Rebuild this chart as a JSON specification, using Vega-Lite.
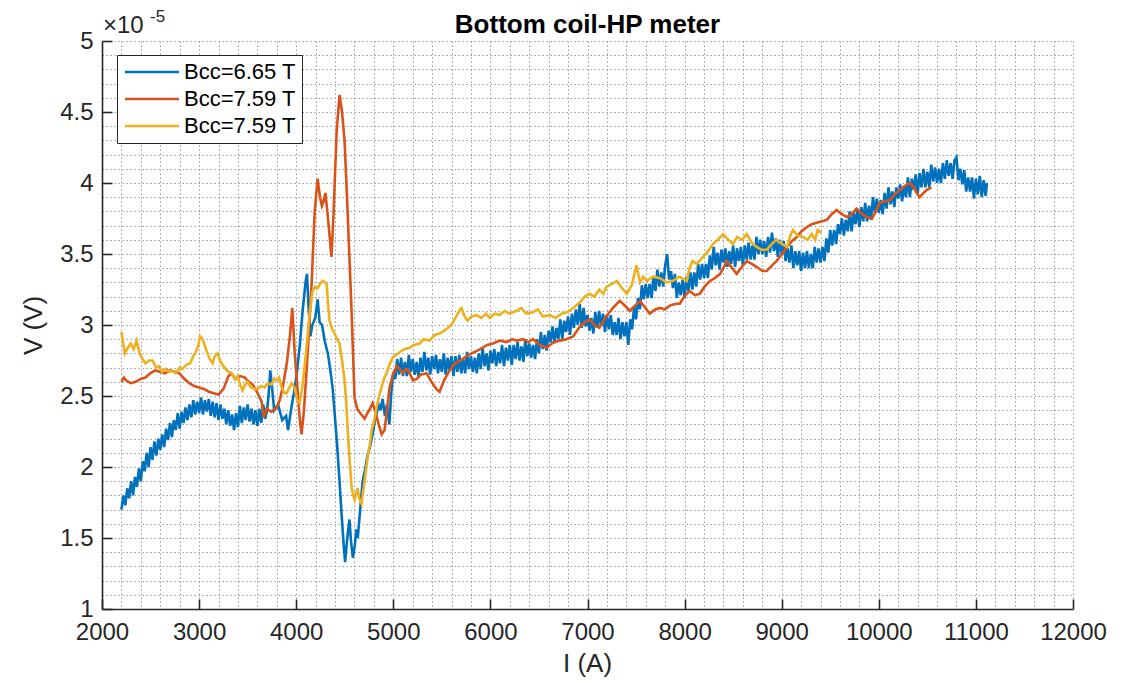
{
  "$schema": "https://vega.github.io/schema/vega-lite/v6.json",
  "width": 971,
  "height": 568,
  "autosize": {"type": "none"},
  "padding": {"left": 102, "top": 41, "right": 64, "bottom": 74},
  "background": "#ffffff",
  "title": {
    "text": "Bottom coil-HP meter",
    "font": "Liberation Sans",
    "fontSize": 26,
    "fontWeight": "bold",
    "color": "#000000",
    "anchor": "middle",
    "frame": "group",
    "baseline": "alphabetic",
    "offset": 8,
    "dy": 59
  },
  "config": {
    "view": {"stroke": null},
    "font": "Liberation Sans",
    "axis": {
      "domainColor": "#262626",
      "domainWidth": 1.6,
      "tickColor": "#262626",
      "tickWidth": 1.6,
      "tickSize": -10,
      "tickCount": 100,
      "labelColor": "#262626",
      "labelFont": "Liberation Sans",
      "labelFontSize": 24,
      "titleColor": "#262626",
      "titleFont": "Liberation Sans",
      "titleFontSize": 26,
      "titleFontWeight": "normal",
      "gridColor": "#9c9c9c",
      "gridDash": [1.5, 2.5],
      "gridWidth": 1,
      "labelOverlap": false,
      "labelBound": false,
      "labelFlush": false
    },
    "legend": {
      "orient": "none",
      "legendX": 15,
      "legendY": 14,
      "padding": 6,
      "strokeColor": "#262626",
      "fillColor": "#ffffff",
      "symbolType": "M-3,0H3",
      "symbolSize": 324,
      "symbolStrokeWidth": 2.6,
      "symbolOffset": 18,
      "labelFont": "Liberation Sans",
      "labelFontSize": 22,
      "labelColor": "#000000",
      "labelOffset": 21,
      "labelLimit": 200,
      "rowPadding": 5
    }
  },
  "datasets": {
    "curves": [
      {"s":"a","I":2200,"V":1.70},{"s":"a","I":2220,"V":1.80},{"s":"a","I":2240,"V":1.73},{"s":"a","I":2260,"V":1.85},{"s":"a","I":2280,"V":1.78},{"s":"a","I":2300,"V":1.90},{"s":"a","I":2320,"V":1.80},{"s":"a","I":2340,"V":1.93},{"s":"a","I":2360,"V":1.86},{"s":"a","I":2380,"V":1.99},{"s":"a","I":2400,"V":1.90},{"s":"a","I":2420,"V":2.04},{"s":"a","I":2440,"V":1.97},{"s":"a","I":2460,"V":2.10},{"s":"a","I":2480,"V":2.00},{"s":"a","I":2500,"V":2.14},{"s":"a","I":2520,"V":2.05},{"s":"a","I":2540,"V":2.18},{"s":"a","I":2560,"V":2.08},{"s":"a","I":2580,"V":2.20},{"s":"a","I":2600,"V":2.12},{"s":"a","I":2620,"V":2.23},{"s":"a","I":2640,"V":2.14},{"s":"a","I":2660,"V":2.27},{"s":"a","I":2680,"V":2.19},{"s":"a","I":2700,"V":2.31},{"s":"a","I":2720,"V":2.21},{"s":"a","I":2740,"V":2.33},{"s":"a","I":2760,"V":2.26},{"s":"a","I":2780,"V":2.38},{"s":"a","I":2800,"V":2.27},{"s":"a","I":2820,"V":2.39},{"s":"a","I":2840,"V":2.31},{"s":"a","I":2860,"V":2.42},{"s":"a","I":2880,"V":2.33},{"s":"a","I":2900,"V":2.44},{"s":"a","I":2920,"V":2.35},{"s":"a","I":2940,"V":2.47},{"s":"a","I":2960,"V":2.37},{"s":"a","I":2980,"V":2.46},{"s":"a","I":3000,"V":2.38},{"s":"a","I":3020,"V":2.49},{"s":"a","I":3040,"V":2.37},{"s":"a","I":3060,"V":2.47},{"s":"a","I":3080,"V":2.39},{"s":"a","I":3100,"V":2.48},{"s":"a","I":3120,"V":2.36},{"s":"a","I":3140,"V":2.46},{"s":"a","I":3160,"V":2.35},{"s":"a","I":3180,"V":2.45},{"s":"a","I":3200,"V":2.33},{"s":"a","I":3220,"V":2.44},{"s":"a","I":3240,"V":2.34},{"s":"a","I":3260,"V":2.41},{"s":"a","I":3280,"V":2.30},{"s":"a","I":3300,"V":2.40},{"s":"a","I":3320,"V":2.29},{"s":"a","I":3340,"V":2.37},{"s":"a","I":3360,"V":2.26},{"s":"a","I":3380,"V":2.38},{"s":"a","I":3400,"V":2.28},{"s":"a","I":3420,"V":2.43},{"s":"a","I":3440,"V":2.31},{"s":"a","I":3460,"V":2.42},{"s":"a","I":3480,"V":2.33},{"s":"a","I":3500,"V":2.44},{"s":"a","I":3520,"V":2.32},{"s":"a","I":3540,"V":2.41},{"s":"a","I":3560,"V":2.30},{"s":"a","I":3580,"V":2.40},{"s":"a","I":3600,"V":2.29},{"s":"a","I":3620,"V":2.41},{"s":"a","I":3640,"V":2.31},{"s":"a","I":3660,"V":2.44},{"s":"a","I":3680,"V":2.34},{"s":"a","I":3700,"V":2.40},{"s":"a","I":3715,"V":2.50},{"s":"a","I":3733,"V":2.68},{"s":"a","I":3753,"V":2.55},{"s":"a","I":3773,"V":2.40},{"s":"a","I":3813,"V":2.44},{"s":"a","I":3856,"V":2.33},{"s":"a","I":3896,"V":2.36},{"s":"a","I":3916,"V":2.26},{"s":"a","I":3946,"V":2.40},{"s":"a","I":3976,"V":2.52},{"s":"a","I":4006,"V":2.66},{"s":"a","I":4036,"V":2.85},{"s":"a","I":4066,"V":3.10},{"s":"a","I":4096,"V":3.30},{"s":"a","I":4111,"V":3.36},{"s":"a","I":4126,"V":3.15},{"s":"a","I":4146,"V":2.92},{"s":"a","I":4166,"V":3.00},{"s":"a","I":4196,"V":3.05},{"s":"a","I":4221,"V":3.18},{"s":"a","I":4241,"V":3.02},{"s":"a","I":4266,"V":3.00},{"s":"a","I":4296,"V":2.88},{"s":"a","I":4326,"V":2.80},{"s":"a","I":4356,"V":2.66},{"s":"a","I":4376,"V":2.55},{"s":"a","I":4396,"V":2.38},{"s":"a","I":4421,"V":2.16},{"s":"a","I":4446,"V":1.90},{"s":"a","I":4469,"V":1.65},{"s":"a","I":4489,"V":1.45},{"s":"a","I":4504,"V":1.33},{"s":"a","I":4519,"V":1.45},{"s":"a","I":4534,"V":1.55},{"s":"a","I":4549,"V":1.63},{"s":"a","I":4564,"V":1.48},{"s":"a","I":4584,"V":1.36},{"s":"a","I":4604,"V":1.45},{"s":"a","I":4619,"V":1.56},{"s":"a","I":4634,"V":1.50},{"s":"a","I":4659,"V":1.70},{"s":"a","I":4684,"V":1.90},{"s":"a","I":4709,"V":1.98},{"s":"a","I":4734,"V":2.08},{"s":"a","I":4759,"V":2.14},{"s":"a","I":4789,"V":2.24},{"s":"a","I":4809,"V":2.32},{"s":"a","I":4829,"V":2.38},{"s":"a","I":4849,"V":2.44},{"s":"a","I":4869,"V":2.40},{"s":"a","I":4889,"V":2.48},{"s":"a","I":4914,"V":2.36},{"s":"a","I":4934,"V":2.44},{"s":"a","I":4959,"V":2.30},{"s":"a","I":4979,"V":2.52},{"s":"a","I":4999,"V":2.66},
      {"s":"a","I":5020,"V":2.62},{"s":"a","I":5040,"V":2.76},{"s":"a","I":5060,"V":2.65},{"s":"a","I":5080,"V":2.77},{"s":"a","I":5100,"V":2.64},{"s":"a","I":5120,"V":2.74},{"s":"a","I":5140,"V":2.64},{"s":"a","I":5160,"V":2.79},{"s":"a","I":5180,"V":2.67},{"s":"a","I":5200,"V":2.76},{"s":"a","I":5220,"V":2.65},{"s":"a","I":5240,"V":2.74},{"s":"a","I":5260,"V":2.63},{"s":"a","I":5280,"V":2.77},{"s":"a","I":5300,"V":2.67},{"s":"a","I":5320,"V":2.81},{"s":"a","I":5340,"V":2.68},{"s":"a","I":5360,"V":2.77},{"s":"a","I":5380,"V":2.65},{"s":"a","I":5400,"V":2.78},{"s":"a","I":5420,"V":2.69},{"s":"a","I":5440,"V":2.79},{"s":"a","I":5460,"V":2.66},{"s":"a","I":5480,"V":2.76},{"s":"a","I":5500,"V":2.67},{"s":"a","I":5520,"V":2.80},{"s":"a","I":5540,"V":2.65},{"s":"a","I":5560,"V":2.77},{"s":"a","I":5580,"V":2.68},{"s":"a","I":5600,"V":2.78},{"s":"a","I":5620,"V":2.64},{"s":"a","I":5640,"V":2.78},{"s":"a","I":5660,"V":2.67},{"s":"a","I":5680,"V":2.79},{"s":"a","I":5700,"V":2.66},{"s":"a","I":5720,"V":2.76},{"s":"a","I":5740,"V":2.66},{"s":"a","I":5760,"V":2.81},{"s":"a","I":5780,"V":2.69},{"s":"a","I":5800,"V":2.78},{"s":"a","I":5820,"V":2.67},{"s":"a","I":5840,"V":2.77},{"s":"a","I":5860,"V":2.66},{"s":"a","I":5880,"V":2.80},{"s":"a","I":5900,"V":2.69},{"s":"a","I":5920,"V":2.84},{"s":"a","I":5940,"V":2.71},{"s":"a","I":5960,"V":2.80},{"s":"a","I":5980,"V":2.68},{"s":"a","I":6000,"V":2.82},{"s":"a","I":6020,"V":2.73},{"s":"a","I":6040,"V":2.83},{"s":"a","I":6060,"V":2.71},{"s":"a","I":6080,"V":2.81},{"s":"a","I":6100,"V":2.73},{"s":"a","I":6120,"V":2.86},{"s":"a","I":6140,"V":2.71},{"s":"a","I":6160,"V":2.84},{"s":"a","I":6180,"V":2.75},{"s":"a","I":6200,"V":2.86},{"s":"a","I":6220,"V":2.72},{"s":"a","I":6240,"V":2.86},{"s":"a","I":6260,"V":2.76},{"s":"a","I":6280,"V":2.88},{"s":"a","I":6300,"V":2.75},{"s":"a","I":6320,"V":2.85},{"s":"a","I":6340,"V":2.74},{"s":"a","I":6360,"V":2.90},{"s":"a","I":6380,"V":2.78},{"s":"a","I":6400,"V":2.87},{"s":"a","I":6420,"V":2.77},{"s":"a","I":6440,"V":2.86},{"s":"a","I":6460,"V":2.76},{"s":"a","I":6480,"V":2.90},{"s":"a","I":6500,"V":2.80},{"s":"a","I":6520,"V":2.95},{"s":"a","I":6540,"V":2.83},{"s":"a","I":6560,"V":2.93},{"s":"a","I":6580,"V":2.82},{"s":"a","I":6600,"V":2.96},{"s":"a","I":6620,"V":2.88},{"s":"a","I":6640,"V":2.99},{"s":"a","I":6660,"V":2.87},{"s":"a","I":6680,"V":2.98},{"s":"a","I":6700,"V":2.90},{"s":"a","I":6720,"V":3.04},{"s":"a","I":6740,"V":2.90},{"s":"a","I":6760,"V":3.03},{"s":"a","I":6780,"V":2.95},{"s":"a","I":6800,"V":3.06},{"s":"a","I":6820,"V":2.93},{"s":"a","I":6840,"V":3.08},{"s":"a","I":6860,"V":2.98},{"s":"a","I":6880,"V":3.11},{"s":"a","I":6900,"V":3.00},{"s":"a","I":6920,"V":3.15},{"s":"a","I":6940,"V":2.98},{"s":"a","I":6960,"V":3.12},{"s":"a","I":6980,"V":2.99},{"s":"a","I":7000,"V":3.07},{"s":"a","I":7020,"V":2.96},{"s":"a","I":7040,"V":3.05},{"s":"a","I":7060,"V":2.94},{"s":"a","I":7080,"V":3.09},{"s":"a","I":7100,"V":2.98},{"s":"a","I":7120,"V":3.10},{"s":"a","I":7140,"V":2.99},{"s":"a","I":7160,"V":3.08},{"s":"a","I":7180,"V":2.95},{"s":"a","I":7200,"V":3.07},{"s":"a","I":7220,"V":2.97},{"s":"a","I":7240,"V":3.07},{"s":"a","I":7260,"V":2.93},{"s":"a","I":7280,"V":3.02},{"s":"a","I":7300,"V":2.93},{"s":"a","I":7320,"V":3.05},{"s":"a","I":7340,"V":2.90},{"s":"a","I":7360,"V":3.02},{"s":"a","I":7380,"V":2.92},{"s":"a","I":7400,"V":3.02},{"s":"a","I":7420,"V":2.86},{"s":"a","I":7440,"V":3.04},{"s":"a","I":7460,"V":2.97},{"s":"a","I":7480,"V":3.13},{"s":"a","I":7500,"V":3.04},{"s":"a","I":7520,"V":3.19},{"s":"a","I":7540,"V":3.11},{"s":"a","I":7560,"V":3.28},{"s":"a","I":7580,"V":3.18},{"s":"a","I":7600,"V":3.29},{"s":"a","I":7620,"V":3.19},{"s":"a","I":7640,"V":3.29},{"s":"a","I":7660,"V":3.19},{"s":"a","I":7680,"V":3.34},{"s":"a","I":7700,"V":3.24},{"s":"a","I":7720,"V":3.39},{"s":"a","I":7740,"V":3.27},{"s":"a","I":7760,"V":3.37},{"s":"a","I":7780,"V":3.27},{"s":"a","I":7800,"V":3.42},{"s":"a","I":7820,"V":3.50},{"s":"a","I":7840,"V":3.32},{"s":"a","I":7860,"V":3.38},{"s":"a","I":7880,"V":3.26},{"s":"a","I":7900,"V":3.36},{"s":"a","I":7920,"V":3.19},{"s":"a","I":7940,"V":3.30},{"s":"a","I":7960,"V":3.21},{"s":"a","I":7980,"V":3.32},{"s":"a","I":8000,"V":3.19},{"s":"a","I":8020,"V":3.34},{"s":"a","I":8040,"V":3.24},{"s":"a","I":8060,"V":3.37},{"s":"a","I":8080,"V":3.25},{"s":"a","I":8100,"V":3.37},{"s":"a","I":8120,"V":3.27},{"s":"a","I":8140,"V":3.43},{"s":"a","I":8160,"V":3.32},{"s":"a","I":8180,"V":3.43},{"s":"a","I":8200,"V":3.33},{"s":"a","I":8220,"V":3.43},{"s":"a","I":8240,"V":3.33},{"s":"a","I":8260,"V":3.49},{"s":"a","I":8280,"V":3.39},{"s":"a","I":8300,"V":3.55},{"s":"a","I":8320,"V":3.42},{"s":"a","I":8340,"V":3.51},{"s":"a","I":8360,"V":3.39},{"s":"a","I":8380,"V":3.53},{"s":"a","I":8400,"V":3.44},{"s":"a","I":8420,"V":3.54},{"s":"a","I":8440,"V":3.41},{"s":"a","I":8460,"V":3.52},{"s":"a","I":8480,"V":3.43},{"s":"a","I":8500,"V":3.56},{"s":"a","I":8520,"V":3.41},{"s":"a","I":8540,"V":3.54},{"s":"a","I":8560,"V":3.45},{"s":"a","I":8580,"V":3.55},{"s":"a","I":8600,"V":3.42},{"s":"a","I":8620,"V":3.56},{"s":"a","I":8640,"V":3.46},{"s":"a","I":8660,"V":3.58},{"s":"a","I":8680,"V":3.46},{"s":"a","I":8700,"V":3.56},{"s":"a","I":8720,"V":3.46},{"s":"a","I":8740,"V":3.62},{"s":"a","I":8760,"V":3.50},{"s":"a","I":8780,"V":3.60},{"s":"a","I":8800,"V":3.50},{"s":"a","I":8820,"V":3.59},{"s":"a","I":8840,"V":3.48},{"s":"a","I":8860,"V":3.62},{"s":"a","I":8880,"V":3.51},{"s":"a","I":8900,"V":3.65},{"s":"a","I":8920,"V":3.52},{"s":"a","I":8940,"V":3.61},{"s":"a","I":8960,"V":3.48},{"s":"a","I":8980,"V":3.60},{"s":"a","I":9000,"V":3.50},{"s":"a","I":9020,"V":3.59},{"s":"a","I":9040,"V":3.45},{"s":"a","I":9060,"V":3.54},{"s":"a","I":9080,"V":3.44},{"s":"a","I":9100,"V":3.56},{"s":"a","I":9120,"V":3.40},{"s":"a","I":9140,"V":3.52},{"s":"a","I":9160,"V":3.42},{"s":"a","I":9180,"V":3.52},{"s":"a","I":9200,"V":3.38},{"s":"a","I":9220,"V":3.51},{"s":"a","I":9240,"V":3.40},{"s":"a","I":9260,"V":3.52},{"s":"a","I":9280,"V":3.40},{"s":"a","I":9300,"V":3.50},{"s":"a","I":9320,"V":3.40},{"s":"a","I":9340,"V":3.55},{"s":"a","I":9360,"V":3.44},{"s":"a","I":9380,"V":3.54},{"s":"a","I":9400,"V":3.44},{"s":"a","I":9420,"V":3.55},{"s":"a","I":9440,"V":3.45},{"s":"a","I":9460,"V":3.61},{"s":"a","I":9480,"V":3.51},{"s":"a","I":9500,"V":3.67},{"s":"a","I":9520,"V":3.56},{"s":"a","I":9540,"V":3.67},{"s":"a","I":9560,"V":3.57},{"s":"a","I":9580,"V":3.71},{"s":"a","I":9600,"V":3.64},{"s":"a","I":9620,"V":3.75},{"s":"a","I":9640,"V":3.63},{"s":"a","I":9660,"V":3.74},{"s":"a","I":9680,"V":3.66},{"s":"a","I":9700,"V":3.80},{"s":"a","I":9720,"V":3.66},{"s":"a","I":9740,"V":3.79},{"s":"a","I":9760,"V":3.71},{"s":"a","I":9780,"V":3.82},{"s":"a","I":9800,"V":3.69},{"s":"a","I":9820,"V":3.83},{"s":"a","I":9840,"V":3.73},{"s":"a","I":9860,"V":3.86},{"s":"a","I":9880,"V":3.73},{"s":"a","I":9900,"V":3.84},{"s":"a","I":9920,"V":3.74},{"s":"a","I":9940,"V":3.90},{"s":"a","I":9960,"V":3.79},{"s":"a","I":9980,"V":3.89},{"s":"a","I":10000,"V":3.79},{"s":"a","I":10020,"V":3.88},{"s":"a","I":10040,"V":3.78},{"s":"a","I":10060,"V":3.93},{"s":"a","I":10080,"V":3.82},{"s":"a","I":10100,"V":3.97},{"s":"a","I":10120,"V":3.85},{"s":"a","I":10140,"V":3.94},{"s":"a","I":10160,"V":3.83},{"s":"a","I":10180,"V":3.97},{"s":"a","I":10200,"V":3.89},{"s":"a","I":10220,"V":3.99},{"s":"a","I":10240,"V":3.87},{"s":"a","I":10260,"V":3.98},{"s":"a","I":10280,"V":3.90},{"s":"a","I":10300,"V":4.04},{"s":"a","I":10320,"V":3.90},{"s":"a","I":10340,"V":4.03},{"s":"a","I":10360,"V":3.95},{"s":"a","I":10380,"V":4.06},{"s":"a","I":10400,"V":3.92},{"s":"a","I":10420,"V":4.07},{"s":"a","I":10440,"V":3.97},{"s":"a","I":10460,"V":4.10},{"s":"a","I":10480,"V":3.97},{"s":"a","I":10500,"V":4.08},{"s":"a","I":10520,"V":3.97},{"s":"a","I":10540,"V":4.13},{"s":"a","I":10560,"V":4.01},{"s":"a","I":10580,"V":4.11},{"s":"a","I":10600,"V":4.00},{"s":"a","I":10620,"V":4.10},{"s":"a","I":10640,"V":4.00},{"s":"a","I":10660,"V":4.14},{"s":"a","I":10680,"V":4.03},{"s":"a","I":10700,"V":4.16},{"s":"a","I":10720,"V":4.05},{"s":"a","I":10740,"V":4.14},{"s":"a","I":10760,"V":4.03},{"s":"a","I":10780,"V":4.16},{"s":"a","I":10800,"V":4.18},{"s":"a","I":10820,"V":4.02},{"s":"a","I":10840,"V":4.10},{"s":"a","I":10860,"V":3.99},{"s":"a","I":10880,"V":4.09},{"s":"a","I":10900,"V":3.94},{"s":"a","I":10920,"V":4.04},{"s":"a","I":10940,"V":3.94},{"s":"a","I":10960,"V":4.04},{"s":"a","I":10980,"V":3.89},{"s":"a","I":11000,"V":4.03},{"s":"a","I":11020,"V":3.92},{"s":"a","I":11040,"V":4.05},{"s":"a","I":11060,"V":3.90},{"s":"a","I":11080,"V":4.02},{"s":"a","I":11100,"V":3.91},{"s":"a","I":11114,"V":4.00},

      {"s":"b","I":2200,"V":2.60},{"s":"b","I":2225,"V":2.63},{"s":"b","I":2246,"V":2.61},{"s":"b","I":2296,"V":2.59},{"s":"b","I":2347,"V":2.60},{"s":"b","I":2397,"V":2.62},{"s":"b","I":2447,"V":2.63},{"s":"b","I":2497,"V":2.66},{"s":"b","I":2547,"V":2.68},{"s":"b","I":2597,"V":2.67},{"s":"b","I":2648,"V":2.66},{"s":"b","I":2698,"V":2.68},{"s":"b","I":2748,"V":2.67},{"s":"b","I":2798,"V":2.66},{"s":"b","I":2849,"V":2.62},{"s":"b","I":2899,"V":2.59},{"s":"b","I":2950,"V":2.57},{"s":"b","I":3000,"V":2.56},{"s":"b","I":3050,"V":2.55},{"s":"b","I":3100,"V":2.53},{"s":"b","I":3151,"V":2.52},{"s":"b","I":3201,"V":2.51},{"s":"b","I":3251,"V":2.55},{"s":"b","I":3302,"V":2.64},{"s":"b","I":3332,"V":2.66},{"s":"b","I":3372,"V":2.62},{"s":"b","I":3422,"V":2.64},{"s":"b","I":3472,"V":2.63},{"s":"b","I":3513,"V":2.60},{"s":"b","I":3553,"V":2.58},{"s":"b","I":3603,"V":2.52},{"s":"b","I":3644,"V":2.46},{"s":"b","I":3664,"V":2.35},{"s":"b","I":3694,"V":2.41},{"s":"b","I":3744,"V":2.39},{"s":"b","I":3804,"V":2.42},{"s":"b","I":3834,"V":2.48},{"s":"b","I":3864,"V":2.57},{"s":"b","I":3905,"V":2.74},{"s":"b","I":3935,"V":2.92},{"s":"b","I":3960,"V":3.12},{"s":"b","I":3985,"V":2.80},{"s":"b","I":4010,"V":2.58},{"s":"b","I":4035,"V":2.35},{"s":"b","I":4055,"V":2.23},{"s":"b","I":4080,"V":2.40},{"s":"b","I":4105,"V":2.66},{"s":"b","I":4135,"V":3.00},{"s":"b","I":4160,"V":3.31},{"s":"b","I":4190,"V":3.79},{"s":"b","I":4220,"V":4.03},{"s":"b","I":4245,"V":3.90},{"s":"b","I":4265,"V":3.84},{"s":"b","I":4285,"V":3.88},{"s":"b","I":4301,"V":3.93},{"s":"b","I":4322,"V":3.79},{"s":"b","I":4345,"V":3.62},{"s":"b","I":4363,"V":3.48},{"s":"b","I":4385,"V":3.79},{"s":"b","I":4402,"V":4.10},{"s":"b","I":4417,"V":4.37},{"s":"b","I":4447,"V":4.62},{"s":"b","I":4472,"V":4.50},{"s":"b","I":4498,"V":4.30},{"s":"b","I":4530,"V":3.79},{"s":"b","I":4571,"V":3.08},{"s":"b","I":4601,"V":2.49},{"s":"b","I":4628,"V":2.41},{"s":"b","I":4658,"V":2.38},{"s":"b","I":4705,"V":2.34},{"s":"b","I":4734,"V":2.38},{"s":"b","I":4759,"V":2.41},{"s":"b","I":4787,"V":2.45},{"s":"b","I":4819,"V":2.38},{"s":"b","I":4849,"V":2.30},{"s":"b","I":4880,"V":2.23},{"s":"b","I":4910,"V":2.26},{"s":"b","I":4935,"V":2.40},{"s":"b","I":4962,"V":2.56},{"s":"b","I":5000,"V":2.66},{"s":"b","I":5035,"V":2.71},{"s":"b","I":5067,"V":2.69},{"s":"b","I":5097,"V":2.66},{"s":"b","I":5132,"V":2.69},{"s":"b","I":5162,"V":2.67},{"s":"b","I":5202,"V":2.61},{"s":"b","I":5242,"V":2.62},{"s":"b","I":5282,"V":2.65},{"s":"b","I":5343,"V":2.66},{"s":"b","I":5393,"V":2.60},{"s":"b","I":5443,"V":2.55},{"s":"b","I":5477,"V":2.53},{"s":"b","I":5523,"V":2.61},{"s":"b","I":5580,"V":2.68},{"s":"b","I":5623,"V":2.72},{"s":"b","I":5663,"V":2.74},{"s":"b","I":5713,"V":2.76},{"s":"b","I":5753,"V":2.78},{"s":"b","I":5806,"V":2.80},{"s":"b","I":5866,"V":2.82},{"s":"b","I":5921,"V":2.84},{"s":"b","I":5966,"V":2.86},{"s":"b","I":6026,"V":2.87},{"s":"b","I":6097,"V":2.89},{"s":"b","I":6167,"V":2.88},{"s":"b","I":6228,"V":2.90},{"s":"b","I":6268,"V":2.89},{"s":"b","I":6338,"V":2.90},{"s":"b","I":6389,"V":2.88},{"s":"b","I":6439,"V":2.90},{"s":"b","I":6509,"V":2.86},{"s":"b","I":6579,"V":2.84},{"s":"b","I":6652,"V":2.88},{"s":"b","I":6717,"V":2.89},{"s":"b","I":6782,"V":2.90},{"s":"b","I":6852,"V":2.92},{"s":"b","I":6912,"V":2.98},{"s":"b","I":6972,"V":3.02},{"s":"b","I":7022,"V":3.04},{"s":"b","I":7072,"V":3.00},{"s":"b","I":7122,"V":2.98},{"s":"b","I":7192,"V":3.06},{"s":"b","I":7262,"V":3.12},{"s":"b","I":7332,"V":3.17},{"s":"b","I":7395,"V":3.13},{"s":"b","I":7435,"V":3.10},{"s":"b","I":7495,"V":3.14},{"s":"b","I":7541,"V":3.17},{"s":"b","I":7596,"V":3.12},{"s":"b","I":7641,"V":3.08},{"s":"b","I":7696,"V":3.11},{"s":"b","I":7746,"V":3.12},{"s":"b","I":7796,"V":3.11},{"s":"b","I":7856,"V":3.14},{"s":"b","I":7916,"V":3.15},{"s":"b","I":7951,"V":3.15},{"s":"b","I":7996,"V":3.20},{"s":"b","I":8051,"V":3.24},{"s":"b","I":8106,"V":3.21},{"s":"b","I":8156,"V":3.22},{"s":"b","I":8206,"V":3.27},{"s":"b","I":8261,"V":3.31},{"s":"b","I":8311,"V":3.33},{"s":"b","I":8366,"V":3.36},{"s":"b","I":8436,"V":3.45},{"s":"b","I":8491,"V":3.40},{"s":"b","I":8536,"V":3.36},{"s":"b","I":8591,"V":3.41},{"s":"b","I":8641,"V":3.45},{"s":"b","I":8691,"V":3.43},{"s":"b","I":8741,"V":3.41},{"s":"b","I":8801,"V":3.38},{"s":"b","I":8846,"V":3.38},{"s":"b","I":8901,"V":3.42},{"s":"b","I":8946,"V":3.45},{"s":"b","I":9005,"V":3.50},{"s":"b","I":9055,"V":3.55},{"s":"b","I":9105,"V":3.59},{"s":"b","I":9155,"V":3.62},{"s":"b","I":9205,"V":3.66},{"s":"b","I":9260,"V":3.69},{"s":"b","I":9310,"V":3.71},{"s":"b","I":9360,"V":3.72},{"s":"b","I":9415,"V":3.73},{"s":"b","I":9465,"V":3.74},{"s":"b","I":9515,"V":3.78},{"s":"b","I":9565,"V":3.81},{"s":"b","I":9620,"V":3.78},{"s":"b","I":9670,"V":3.76},{"s":"b","I":9720,"V":3.78},{"s":"b","I":9770,"V":3.82},{"s":"b","I":9830,"V":3.78},{"s":"b","I":9880,"V":3.76},{"s":"b","I":9930,"V":3.75},{"s":"b","I":9970,"V":3.80},{"s":"b","I":10010,"V":3.86},{"s":"b","I":10060,"V":3.87},{"s":"b","I":10115,"V":3.88},{"s":"b","I":10165,"V":3.92},{"s":"b","I":10215,"V":3.95},{"s":"b","I":10270,"V":3.98},{"s":"b","I":10320,"V":4.00},{"s":"b","I":10360,"V":3.97},{"s":"b","I":10390,"V":3.93},{"s":"b","I":10420,"V":3.90},{"s":"b","I":10462,"V":3.93},{"s":"b","I":10492,"V":3.95},{"s":"b","I":10542,"V":3.97},

      {"s":"c","I":2200,"V":2.95},{"s":"c","I":2215,"V":2.88},{"s":"c","I":2236,"V":2.80},{"s":"c","I":2266,"V":2.84},{"s":"c","I":2296,"V":2.87},{"s":"c","I":2326,"V":2.83},{"s":"c","I":2356,"V":2.89},{"s":"c","I":2387,"V":2.80},{"s":"c","I":2417,"V":2.76},{"s":"c","I":2447,"V":2.73},{"s":"c","I":2487,"V":2.75},{"s":"c","I":2521,"V":2.75},{"s":"c","I":2557,"V":2.70},{"s":"c","I":2587,"V":2.71},{"s":"c","I":2618,"V":2.67},{"s":"c","I":2658,"V":2.69},{"s":"c","I":2688,"V":2.67},{"s":"c","I":2718,"V":2.68},{"s":"c","I":2759,"V":2.66},{"s":"c","I":2799,"V":2.70},{"s":"c","I":2829,"V":2.69},{"s":"c","I":2869,"V":2.72},{"s":"c","I":2909,"V":2.73},{"s":"c","I":2939,"V":2.78},{"s":"c","I":2960,"V":2.80},{"s":"c","I":2990,"V":2.85},{"s":"c","I":3010,"V":2.92},{"s":"c","I":3036,"V":2.90},{"s":"c","I":3060,"V":2.85},{"s":"c","I":3087,"V":2.80},{"s":"c","I":3110,"V":2.76},{"s":"c","I":3140,"V":2.73},{"s":"c","I":3161,"V":2.78},{"s":"c","I":3191,"V":2.80},{"s":"c","I":3221,"V":2.74},{"s":"c","I":3262,"V":2.70},{"s":"c","I":3302,"V":2.67},{"s":"c","I":3335,"V":2.66},{"s":"c","I":3372,"V":2.62},{"s":"c","I":3397,"V":2.64},{"s":"c","I":3422,"V":2.58},{"s":"c","I":3448,"V":2.54},{"s":"c","I":3472,"V":2.58},{"s":"c","I":3499,"V":2.60},{"s":"c","I":3533,"V":2.56},{"s":"c","I":3573,"V":2.55},{"s":"c","I":3603,"V":2.55},{"s":"c","I":3644,"V":2.57},{"s":"c","I":3674,"V":2.56},{"s":"c","I":3706,"V":2.59},{"s":"c","I":3744,"V":2.58},{"s":"c","I":3774,"V":2.62},{"s":"c","I":3798,"V":2.61},{"s":"c","I":3824,"V":2.63},{"s":"c","I":3850,"V":2.56},{"s":"c","I":3880,"V":2.52},{"s":"c","I":3902,"V":2.52},{"s":"c","I":3930,"V":2.56},{"s":"c","I":3953,"V":2.59},{"s":"c","I":3983,"V":2.56},{"s":"c","I":4010,"V":2.47},{"s":"c","I":4035,"V":2.45},{"s":"c","I":4060,"V":2.55},{"s":"c","I":4086,"V":2.70},{"s":"c","I":4111,"V":2.88},{"s":"c","I":4138,"V":3.08},{"s":"c","I":4169,"V":3.24},{"s":"c","I":4196,"V":3.27},{"s":"c","I":4221,"V":3.26},{"s":"c","I":4246,"V":3.29},{"s":"c","I":4272,"V":3.31},{"s":"c","I":4296,"V":3.30},{"s":"c","I":4313,"V":3.29},{"s":"c","I":4328,"V":3.15},{"s":"c","I":4343,"V":3.03},{"s":"c","I":4371,"V":2.97},{"s":"c","I":4395,"V":2.94},{"s":"c","I":4421,"V":2.90},{"s":"c","I":4446,"V":2.87},{"s":"c","I":4472,"V":2.75},{"s":"c","I":4498,"V":2.61},{"s":"c","I":4516,"V":2.45},{"s":"c","I":4530,"V":2.26},{"s":"c","I":4553,"V":2.02},{"s":"c","I":4571,"V":1.85},{"s":"c","I":4588,"V":1.80},{"s":"c","I":4601,"V":1.77},{"s":"c","I":4618,"V":1.82},{"s":"c","I":4632,"V":1.85},{"s":"c","I":4648,"V":1.78},{"s":"c","I":4673,"V":1.74},{"s":"c","I":4688,"V":1.82},{"s":"c","I":4704,"V":1.90},{"s":"c","I":4719,"V":1.98},{"s":"c","I":4736,"V":2.07},{"s":"c","I":4759,"V":2.16},{"s":"c","I":4777,"V":2.26},{"s":"c","I":4804,"V":2.33},{"s":"c","I":4828,"V":2.42},{"s":"c","I":4854,"V":2.50},{"s":"c","I":4879,"V":2.56},{"s":"c","I":4904,"V":2.62},{"s":"c","I":4930,"V":2.66},{"s":"c","I":4961,"V":2.72},{"s":"c","I":4994,"V":2.77},{"s":"c","I":5031,"V":2.79},{"s":"c","I":5067,"V":2.81},{"s":"c","I":5112,"V":2.83},{"s":"c","I":5169,"V":2.84},{"s":"c","I":5212,"V":2.86},{"s":"c","I":5273,"V":2.87},{"s":"c","I":5313,"V":2.90},{"s":"c","I":5375,"V":2.89},{"s":"c","I":5424,"V":2.93},{"s":"c","I":5478,"V":2.94},{"s":"c","I":5524,"V":2.96},{"s":"c","I":5581,"V":2.99},{"s":"c","I":5614,"V":3.02},{"s":"c","I":5649,"V":3.06},{"s":"c","I":5679,"V":3.10},{"s":"c","I":5704,"V":3.12},{"s":"c","I":5734,"V":3.06},{"s":"c","I":5764,"V":3.03},{"s":"c","I":5806,"V":3.06},{"s":"c","I":5859,"V":3.07},{"s":"c","I":5906,"V":3.05},{"s":"c","I":5956,"V":3.08},{"s":"c","I":5993,"V":3.05},{"s":"c","I":6046,"V":3.08},{"s":"c","I":6097,"V":3.07},{"s":"c","I":6147,"V":3.10},{"s":"c","I":6197,"V":3.08},{"s":"c","I":6268,"V":3.10},{"s":"c","I":6318,"V":3.12},{"s":"c","I":6368,"V":3.08},{"s":"c","I":6439,"V":3.09},{"s":"c","I":6489,"V":3.11},{"s":"c","I":6539,"V":3.06},{"s":"c","I":6612,"V":3.07},{"s":"c","I":6672,"V":3.05},{"s":"c","I":6732,"V":3.08},{"s":"c","I":6787,"V":3.09},{"s":"c","I":6852,"V":3.12},{"s":"c","I":6922,"V":3.16},{"s":"c","I":6972,"V":3.20},{"s":"c","I":7022,"V":3.22},{"s":"c","I":7072,"V":3.20},{"s":"c","I":7122,"V":3.25},{"s":"c","I":7162,"V":3.22},{"s":"c","I":7197,"V":3.27},{"s":"c","I":7252,"V":3.29},{"s":"c","I":7302,"V":3.31},{"s":"c","I":7355,"V":3.26},{"s":"c","I":7405,"V":3.22},{"s":"c","I":7455,"V":3.28},{"s":"c","I":7505,"V":3.42},{"s":"c","I":7540,"V":3.30},{"s":"c","I":7575,"V":3.34},{"s":"c","I":7610,"V":3.31},{"s":"c","I":7676,"V":3.34},{"s":"c","I":7746,"V":3.33},{"s":"c","I":7816,"V":3.30},{"s":"c","I":7876,"V":3.31},{"s":"c","I":7946,"V":3.34},{"s":"c","I":8021,"V":3.31},{"s":"c","I":8051,"V":3.40},{"s":"c","I":8081,"V":3.45},{"s":"c","I":8126,"V":3.43},{"s":"c","I":8191,"V":3.48},{"s":"c","I":8241,"V":3.52},{"s":"c","I":8291,"V":3.57},{"s":"c","I":8341,"V":3.60},{"s":"c","I":8396,"V":3.64},{"s":"c","I":8451,"V":3.60},{"s":"c","I":8496,"V":3.57},{"s":"c","I":8541,"V":3.62},{"s":"c","I":8591,"V":3.60},{"s":"c","I":8641,"V":3.64},{"s":"c","I":8691,"V":3.58},{"s":"c","I":8741,"V":3.55},{"s":"c","I":8791,"V":3.53},{"s":"c","I":8846,"V":3.53},{"s":"c","I":8896,"V":3.57},{"s":"c","I":8946,"V":3.60},{"s":"c","I":9005,"V":3.57},{"s":"c","I":9055,"V":3.55},{"s":"c","I":9085,"V":3.62},{"s":"c","I":9115,"V":3.67},{"s":"c","I":9165,"V":3.63},{"s":"c","I":9220,"V":3.62},{"s":"c","I":9265,"V":3.60},{"s":"c","I":9310,"V":3.64},{"s":"c","I":9345,"V":3.60},{"s":"c","I":9370,"V":3.67},{"s":"c","I":9410,"V":3.65}
    ],
    "exponent": [{"I": 2000, "V": 5}]
  },
  "layer": [
    {
      "data": {"name": "curves"},
      "mark": {"type": "line", "strokeWidth": 2.6, "clip": true},
      "encoding": {
        "x": {
          "field": "I",
          "type": "quantitative",
          "scale": {"domain": [2000, 12000], "nice": false, "zero": false},
          "axis": {
            "title": "I (A)",
            "titleX": 485,
            "titleY": 54,
            "titleAlign": "center",
            "titleBaseline": "middle",
            "values": [2000,2200,2400,2600,2800,3000,3200,3400,3600,3800,4000,4200,4400,4600,4800,5000,5200,5400,5600,5800,6000,6200,6400,6600,6800,7000,7200,7400,7600,7800,8000,8200,8400,8600,8800,9000,9200,9400,9600,9800,10000,10200,10400,10600,10800,11000,11200,11400,11600,11800,12000],
            "format": "d",
            "labelExpr": "datum.value % 1000 == 0 ? datum.label : ''",
            "labelPadding": 21,
            "tickOpacity": {"condition": {"test": "datum.value % 1000 == 0", "value": 1}, "value": 0}
          }
        },
        "y": {
          "field": "V",
          "type": "quantitative",
          "scale": {"domain": [1, 5], "nice": false, "zero": false},
          "axis": {
            "title": "V (V)",
            "titleX": -69,
            "titleY": 284,
            "titleAlign": "center",
            "titleBaseline": "middle",
            "titleAngle": -90,
            "values": [1,1.1,1.2,1.3,1.4,1.5,1.6,1.7,1.8,1.9,2,2.1,2.2,2.3,2.4,2.5,2.6,2.7,2.8,2.9,3,3.1,3.2,3.3,3.4,3.5,3.6,3.7,3.8,3.9,4,4.1,4.2,4.3,4.4,4.5,4.6,4.7,4.8,4.9,5],
            "labelExpr": "round(datum.value * 10) % 5 == 0 ? format(datum.value, '~g') : ''",
            "labelPadding": 19,
            "tickOpacity": {"condition": {"test": "round(datum.value * 10) % 5 == 0", "value": 1}, "value": 0}
          }
        },
        "color": {
          "field": "s",
          "type": "nominal",
          "scale": {"domain": ["a", "b", "c"], "range": ["#0072BD", "#D95319", "#EDB120"]},
          "legend": {
            "title": null,
            "labelExpr": "datum.label == 'a' ? 'Bcc=6.65 T' : 'Bcc=7.59 T'"
          }
        }
      }
    },
    {
      "data": {"name": "exponent"},
      "mark": {"type": "text", "align": "left", "baseline": "alphabetic", "dx": 1, "dy": -8, "font": "Liberation Sans", "fontSize": 24, "color": "#262626"},
      "encoding": {"x": {"field": "I", "type": "quantitative"}, "y": {"field": "V", "type": "quantitative"}, "text": {"value": "×10"}}
    },
    {
      "data": {"name": "exponent"},
      "mark": {"type": "text", "align": "left", "baseline": "alphabetic", "dx": 48, "dy": -19, "font": "Liberation Sans", "fontSize": 17, "color": "#262626"},
      "encoding": {"x": {"field": "I", "type": "quantitative"}, "y": {"field": "V", "type": "quantitative"}, "text": {"value": "-5"}}
    }
  ]
}
